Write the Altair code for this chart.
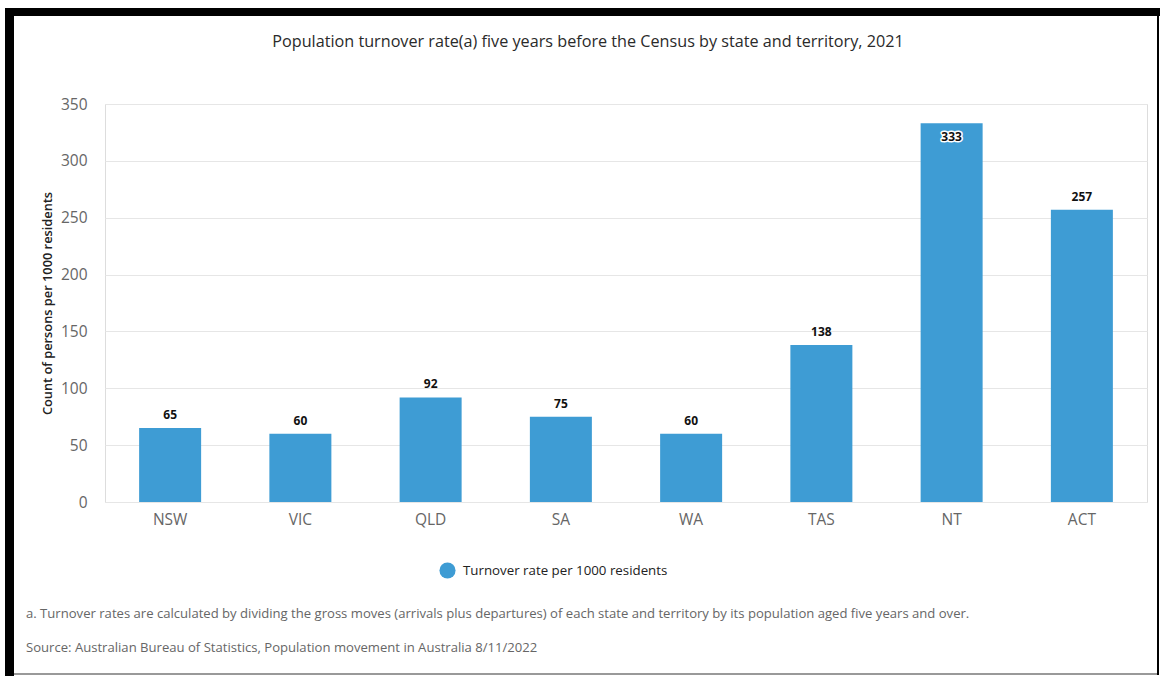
import altair as alt
import pandas as pd

states = ["NSW", "VIC", "QLD", "SA", "WA", "TAS", "NT", "ACT"]
rates = [65, 60, 92, 75, 60, 138, 333, 257]
inside_label = [False, False, False, False, False, False, True, False]
series_name = "Turnover rate per 1000 residents"
title_text = "Population turnover rate(a) five years before the Census by state and territory, 2021"
y_title = "Count of persons per 1000 residents"
y_ticks = [0, 50, 100, 150, 200, 250, 300, 350]
footnote = ("a. Turnover rates are calculated by dividing the gross moves (arrivals plus departures) "
            "of each state and territory by its population aged five years and over.")
source = "Source: Australian Bureau of Statistics, Population movement in Australia 8/11/2022"

df = pd.DataFrame({"state": states, "rate": rates, "inside": inside_label,
                   "series": [series_name] * len(states)})

FONT = "Open Sans"
BLUE = "#3e9cd4"

x_enc = alt.X("state:N", sort=states, title=None,
              scale=alt.Scale(paddingInner=0.52, paddingOuter=0.26),
              axis=alt.Axis(labelAngle=0, labelFontSize=15.5, labelColor="#666666",
                            labelPadding=10, ticks=False, domain=False, labelFont=FONT))
y_enc = alt.Y("rate:Q", title=y_title,
              scale=alt.Scale(domain=[0, 350], nice=False),
              axis=alt.Axis(values=y_ticks, labelFontSize=15.5, labelColor="#666666",
                            labelPadding=18, ticks=False, domain=False, grid=True,
                            gridColor="#e6e6e6", titleFontSize=12.8, titleColor="#222222",
                            titleFontWeight=600, titlePadding=6, labelFont=FONT, titleFont=FONT))

base = alt.Chart(df)

bars = base.mark_bar(size=62).encode(
    x=x_enc, y=y_enc,
    color=alt.Color("series:N", scale=alt.Scale(range=[BLUE]), title=None,
                    legend=alt.Legend(orient="none", legendX=334, legendY=458,
                                      symbolType="circle", symbolSize=260,
                                      symbolStrokeWidth=0, labelFontSize=13.3,
                                      labelColor="#222222", labelFont=FONT,
                                      labelFontWeight=500, labelOffset=7, padding=0,
                                      labelLimit=0)),
)

labels_out = base.transform_filter("!datum.inside").mark_text(
    dy=-9, baseline="alphabetic", fontWeight="bold", fontSize=12, font=FONT, color="#111111"
).encode(x=alt.X("state:N", sort=states), y="rate:Q", text="rate:Q")

labels_in_halo = base.transform_filter("datum.inside").mark_text(
    dy=9, baseline="top", fontWeight="bold", fontSize=12, font=FONT, color="white",
    stroke="white", strokeWidth=3, strokeJoin="round"
).encode(x=alt.X("state:N", sort=states), y="rate:Q", text="rate:Q")

labels_in = base.transform_filter("datum.inside").mark_text(
    dy=9, baseline="top", fontWeight="bold", fontSize=12, font=FONT, color="#111111"
).encode(x=alt.X("state:N", sort=states), y="rate:Q", text="rate:Q")

one = pd.DataFrame({"k": [0]})

title_mark = alt.Chart(one).mark_text(align="center", baseline="middle", fontSize=16.2,
                                      color="#2a2a2a", font=FONT).encode(
    x=alt.value(483), y=alt.value(-62), text=alt.value(title_text))

note1 = alt.Chart(one).mark_text(align="left", baseline="middle", fontSize=13.1,
                                 color="#666666", font=FONT).encode(
    x=alt.value(-79), y=alt.value(510), text=alt.value(footnote))
note2 = alt.Chart(one).mark_text(align="left", baseline="middle", fontSize=13.1,
                                 color="#666666", font=FONT).encode(
    x=alt.value(-79), y=alt.value(544), text=alt.value(source))

frame_top = alt.Chart(one).mark_rect(color="black").encode(
    x=alt.value(-100), x2=alt.value(1055), y=alt.value(-96), y2=alt.value(-88))
frame_left = alt.Chart(one).mark_rect(color="black").encode(
    x=alt.value(-100), x2=alt.value(-91), y=alt.value(-96), y2=alt.value(572))
frame_right = alt.Chart(one).mark_rect(color="black").encode(
    x=alt.value(1052), x2=alt.value(1054), y=alt.value(-96), y2=alt.value(571))
frame_bottom = alt.Chart(one).mark_rect(color="#999999").encode(
    x=alt.value(-91), x2=alt.value(1052), y=alt.value(569), y2=alt.value(571))

chart = alt.layer(
    bars, labels_out, labels_in_halo, labels_in, title_mark, note1, note2,
    frame_top, frame_left, frame_right, frame_bottom
).properties(
    width=1042, height=398,
    autosize=alt.AutoSizeParams(type="none"),
    padding={"left": 105, "top": 104, "right": 13, "bottom": 174},
).configure_view(stroke=None).configure(background="white")

chart.save("out.html", embed_options={"renderer": "svg", "actions": False})
